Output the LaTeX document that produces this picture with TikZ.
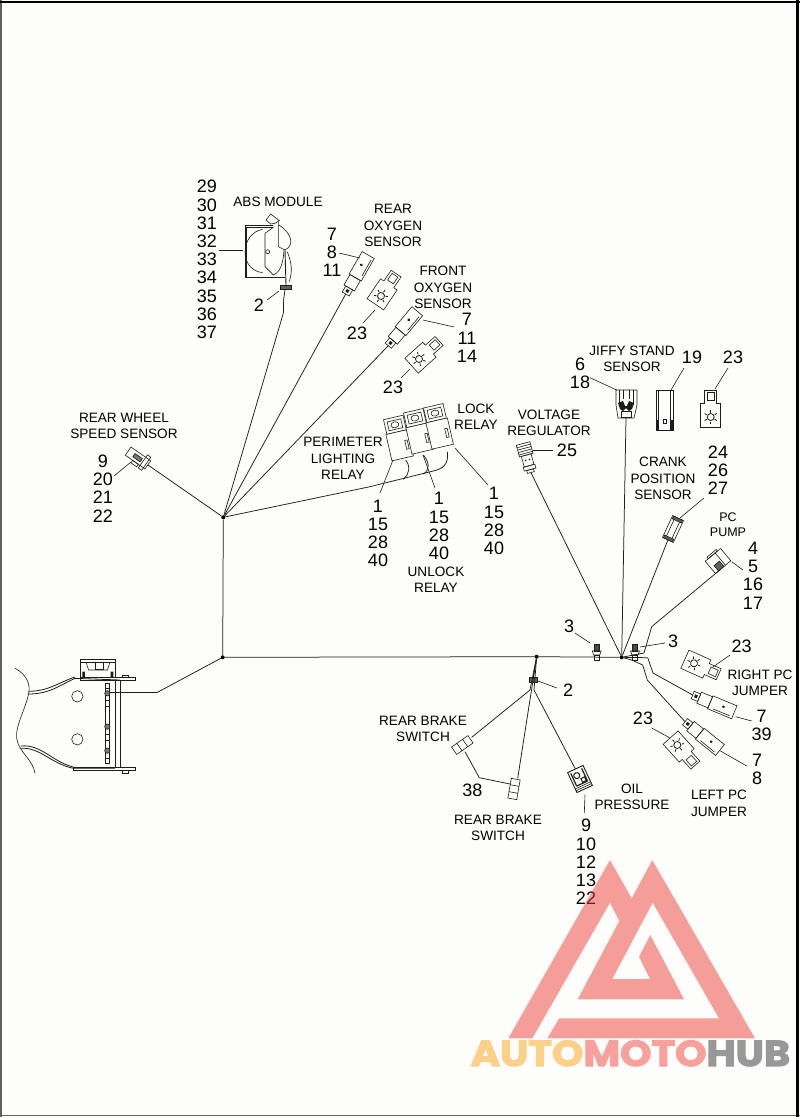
\documentclass[tikz,border=0pt]{standalone}
\usepackage{fontspec}
\setmainfont{Liberation Sans}
\newfontfamily\logofont[FakeBold=3]{Poppins}
\definecolor{paper}{HTML}{FDFEFB}
\definecolor{ink}{HTML}{1C1C1C}
\definecolor{logored}{HTML}{EE3F38}
\definecolor{logopink}{HTML}{F7A09C}
\definecolor{logoorange}{HTML}{FDD08A}
\definecolor{logogray}{HTML}{989898}

\tikzset{
  pics/plug/.style={code={
    \draw[partline] (0,-4) rectangle (7,4);
    \fill[ink] (2,-1.5) rectangle (5,1.5);
    \draw[partline] (7,-6) rectangle (19,6);
    \draw[partline] (19,-7) rectangle (45,7);
    \draw[partline] (24,5) -- (42,5);
    \fill[ink] (33,-1) circle (1.5);
    \coordinate (-tail) at (0,0);
  }},
  pics/tag/.style={code={
    \draw[partline] (-10,-10) -- (14,-10) -- (14,-6) -- (27,-6) -- (27,6) -- (14,6) -- (14,10) -- (-10,10) -- cycle;
    \draw[partline] (17,-3.5) rectangle (25,3.5);
    \draw[line width=.8pt,ink] (0,0) circle (3.5);
    \foreach \a in {0,60,...,300}
      \draw[line width=.8pt,ink] (\a:4.5) -- (\a:7);
  }},
  pics/relay/.style={code={
    \draw[partline,fill=paper] (-10,-30) rectangle (10,-15);
    \draw[partline] (0,-22.5) ellipse (4 and 3);
    \draw[partline] (-7,-18) rectangle (7,-27);
    \draw[partline,fill=paper] (-11,-15) rectangle (11,12);
    \draw[partline] (6,-5) rectangle (8.5,4);
  }},
  pics/pushpin/.style={code={
    \draw[partline,fill=ink!80] (-2.5,-9) rectangle (2.5,-2);
    \draw[partline] (-4.5,-2) -- (4.5,-2) -- (3,2) -- (-3,2) -- cycle;
    \draw[partline] (-2.5,2) rectangle (2.5,7);
  }},
  pics/brakeswitch/.style={code={
    \draw[partline] (-10,-4.5) rectangle (10,4.5);
    \draw[partline] (-3.5,-4.5) -- (-3.5,4.5) (3.5,-4.5) -- (3.5,4.5);
  }},
}

\begin{document}
\begin{tikzpicture}[x=1pt,y=-1pt]
  \tikzset{wire/.style = {draw=ink,line width=.75pt}}
  \tikzset{leader/.style = {draw=ink,line width=.6pt}}
  \tikzset{partline/.style = {draw=ink,line width=.6pt}}
  \tikzset{hub/.style = {shape=circle,fill=black,inner sep=0pt,minimum size=4pt}}
  \tikzset{caption/.style = {align=center,inner sep=0pt,font=\fontsize{13.6}{16.4}\selectfont,text=black}}
  \tikzset{itemno/.style = {align=center,inner sep=0pt,font=\fontsize{18}{18.2}\selectfont,text=black}}

  \useasboundingbox (0,0) rectangle (800,1117);
  \fill[paper] (0,0) rectangle (800,1117);
  \draw[line width=2pt,draw=ink!70] (1,0) -- (1,1117);
  \draw[line width=.9pt,draw=ink!70] (0,1115.5) -- (800,1115.5);
  \draw[line width=2pt,draw=black] (0,1.8) -- (800,1.8);
  \draw[line width=2.6pt,draw=black] (797.2,0) -- (797.2,1117);

  % frame section
  \begin{scope}[shift={(0,620)},scale=1/3]
    \draw[partline] (45,145) .. controls (75,160) and (95,190) .. (85,225) .. controls (75,270) and (45,320) .. (50,355) .. controls (55,395) and (100,420) .. (105,460);
    \draw[line width=.8pt,ink] (85,222) .. controls (150,222) and (180,195) .. (225,175) -- (360,180);
    \draw[line width=.8pt,ink] (85,214) .. controls (145,214) and (175,188) .. (225,171);
    \draw[line width=.8pt,ink] (60,385) .. controls (120,380) and (150,430) .. (220,445) -- (345,445);
    \draw[line width=.8pt,ink] (62,378) .. controls (125,372) and (155,425) .. (220,441);
    \draw[partline] (240,172) rectangle (405,180);
    \draw[partline] (366,165) rectangle (385,172);
    \draw[partline] (220,442) rectangle (405,452);
    \draw[partline] (366,452) rectangle (385,460);
    \draw[partline] (347,180) -- (347,442) (361,180) -- (361,442);
    \draw[partline] (232,229) circle (17) (232,358) circle (17);
    \draw[partline] (317,190) -- (317,430) (327,190) -- (327,430);
    \foreach \yb in {197,250,352,423}
      \draw[partline,fill=paper] (315,\yb-8) rectangle (329,\yb+8);
    \foreach \yb in {220,320,392}
      \draw[partline,fill=ink!60] (322,\yb) circle (8);
    \draw[partline] (242,172) -- (242,118) -- (346,118) -- (346,172);
    \draw[partline] (258,127) -- (330,127) -- (322,150) -- (266,150) -- cycle;
    \draw[partline] (287,127) rectangle (310,148);
    \draw[partline] (242,126) -- (346,126);
    \fill[ink] (247,155) rectangle (255,172) (332,155) rectangle (340,172);
  \end{scope}

  % ABS module
  \begin{scope}[shift={(180,170)},scale=1/3]
    \draw[partline] (280,165) -- (195,165) -- (195,322) -- (280,322);
    \draw[partline] (200,172) -- (280,172) (200,172) -- (200,322);
    \draw[partline] (248,178) .. controls (180,190) and (175,300) .. (248,308);
    \draw[partline] (258,150) -- (272,132) -- (298,152) -- (285,160) -- (272,162) -- cycle;
    \draw[partline] (255,190) -- (280,172) (255,190) -- (255,290) -- (280,315);
    \draw[partline] (263,245) circle (6);
    \draw[partline] (295,155) -- (295,230) -- (315,240) .. controls (345,225) and (335,190) .. (297,165);
    \draw[partline] (280,315) .. controls (305,305) and (310,270) .. (312,240);
    \draw[partline] (322,245) .. controls (335,280) and (338,300) .. (328,335);
    \draw[partline] (280,322) -- (315,322);
    \draw[line width=.9pt,ink] (315,240) -- (318,345);
    \node[draw=ink,fill=ink!70,inner sep=0pt,minimum width=11pt,minimum height=4pt] (absclip) at (316,352) {};
  \end{scope}

  % parts
  \pic[rotate=60] (rearplug) at (345.7,294) {plug};
  \pic[rotate=50] (frontplug) at (388.3,345.7) {plug};
  \pic[rotate=-22.6] (rightplug) at (692.7,695) {plug};
  \pic[rotate=-39] (leftplug) at (685,721.7) {plug};
  \pic[rotate=56] (tagrear) at (381,296) {tag};
  \pic[rotate=42] (tagfront) at (419,359) {tag};
  \pic[rotate=90] (tagjiffy) at (710.7,417) {tag};
  \pic[rotate=-24] (tagright) at (694,663.3) {tag};
  \pic[rotate=-48] (tagleft) at (677.3,745) {tag};
  \pic[rotate=13] at (400,446.7) {relay};
  \pic[rotate=13] at (420,440) {relay};
  \pic[rotate=13] at (440,435) {relay};
  \pic at (596.7,653) {pushpin};
  \pic at (635,653) {pushpin};
  \pic[rotate=35] at (462.3,745) {brakeswitch};
  \pic[rotate=80] at (514,789) {brakeswitch};

  % small connectors
  \begin{scope}[shift={(138,458)},rotate=-35]
    \draw[partline,fill=paper] (-12,-5) rectangle (12,5);
    \draw[partline,fill=ink!60] (-5,-2) rectangle (4,2);
    \draw[partline] (6,-8) rectangle (10,8);
    \draw[partline] (-3,5) rectangle (4,8);
    \coordinate (wheelconn) at (12,0);
  \end{scope}
  \begin{scope}[shift={(527,458)},rotate=15]
    \draw[partline] (-7,-15) rectangle (7,-3);
    \foreach \yb in {-12.5,-10,-7.5,-5}
      \draw[partline] (-7,\yb) -- (7,\yb);
    \draw[partline] (-5,-3) rectangle (5,8);
    \fill[ink] (-2,2) circle (.9) (2,2) circle (.9);
    \draw[partline] (-6,8) rectangle (6,12);
    \draw[partline] (-3.5,12) rectangle (3.5,15);
    \coordinate (regconn) at (0,15);
  \end{scope}
  \begin{scope}[shift={(626,405)}]
    \draw[partline] (-10,-15) -- (11,-15) -- (11,0) -- (8,13) -- (-8,13) -- (-10,0) -- cycle;
    \draw[partline] (-7,-15) -- (-7,0) (7,-15) -- (7,0) (-3,-15) -- (-3,-6) (3,-15) -- (3,-6);
    \fill[ink] (-8,-2) -- (-3,-4) -- (-1,1) -- (1,1) -- (3,-4) -- (8,-2) -- (6,4) -- (3,6) -- (0,3) -- (-3,6) -- (-6,4) -- cycle;
    \draw[partline] (-5,6) rectangle (5,12);
    \coordinate (jiffyconn) at (0,13);
  \end{scope}
  \begin{scope}[shift={(664.5,410)}]
    \draw[partline] (-8.5,-20) rectangle (8.5,20);
    \draw[partline] (-6,-20) -- (-6,20) (6,-20) -- (6,20);
    \fill[ink] (-8.5,10) rectangle (-6.5,20) (6.5,10) rectangle (8.5,20);
    \draw[partline] (-1.5,9) rectangle (1.5,13);
    \coordinate (sidejiffy) at (6,-20);
  \end{scope}
  \begin{scope}[shift={(673,529)},rotate=-25]
    \draw[partline] (-6,-12) rectangle (6,12);
    \draw[partline] (-3,-12) -- (-3,12) (3,-12) -- (3,12);
    \draw[partline,fill=ink!70] (-5,-12) rectangle (5,-9);
    \draw[partline,fill=ink!70] (-5,9) rectangle (5,12);
    \coordinate (crankconn) at (0,12);
  \end{scope}
  \begin{scope}[shift={(718,561)},rotate=40]
    \draw[partline] (-10,-8) rectangle (10,8);
    \draw[partline] (-6,-10) rectangle (6,-8);
    \draw[partline,fill=ink!70] (-6,1) rectangle (1,8);
    \draw[partline] (3,-8) -- (3,8);
    \coordinate (pumpconn) at (-4,8);
  \end{scope}
  \begin{scope}[shift={(580,779)},rotate=25]
    \draw[line width=.9pt,ink] (-8.5,-11) rectangle (8.5,11);
    \draw[partline] (-8.5,7) -- (8.5,7) (-8.5,9) -- (8.5,9);
    \draw[line width=1.2pt,ink] (-6,-9) -- (-6,5) (6,-9) -- (6,5) (-6,5) -- (6,5);
    \draw[line width=1pt,ink] (-1.5,-4.5) circle (3);
    \draw[line width=1pt,ink] (1,0) rectangle (5,4);
    \coordinate (oilconn) at (0,-11);
    \coordinate (oilout) at (2,11);
  \end{scope}
  \node[draw=ink,fill=ink!70,inner sep=0pt,minimum width=8pt,minimum height=5pt] (brakeclip) at (532.7,679.3) {};

  % harness
  \node[hub] (hubtop) at (223.3,517.3) {};
  \node[hub] (hubframe) at (222.7,657.3) {};
  \node[hub] (hubright) at (621.7,657.3) {};
  \node[hub] (hubbrake) at (536.7,656.7) {};
  \foreach \name/\x/\y in {framea/110/692.7, frameb/156.7/692.7, absb/283.3/313.3, absc/283.3/301.7,
    rearswa/471.7/737.3, rearswb/517.7/778.3, rearswc/465/751.7, rearswd/479.3/777.7, rearswe/510/784,
    brakea/530/690, brakeb/534/690, oila/575/768.3, pumpa/651.7/626.7, pumpb/644/653,
    jumpa/647.7/657.7, jumpb/653/673, jumpc/631.7/660, jumpd/642.7/665, jumpe/647.3/680,
    reltrunka/370/486.7, reltrunkb/433.3/471, relaya/403.3/479.3, relayb/405.7/460,
    relayc/423.3/474, relayd/423.3/455, relaye/447.3/451.7}
    \coordinate (\name) at (\x,\y);

  \foreach \from/\to in {hubtop/hubframe, hubframe/hubbrake, hubbrake/hubright, framea/frameb, frameb/hubframe,
    hubtop/wheelconn, hubtop/absb, absb/absc, absc/absclip, hubtop/rearplug-tail, hubtop/frontplug-tail,
    hubtop/reltrunka, reltrunka/reltrunkb, hubright/regconn, hubright/jiffyconn, hubright/crankconn,
    hubright/pumpb, pumpb/pumpa, pumpa/pumpconn, hubright/jumpa, jumpa/jumpb, jumpb/rightplug-tail,
    hubright/jumpc, jumpc/jumpd, jumpd/jumpe, jumpe/leftplug-tail, hubbrake/brakeclip,
    hubbrake/brakea, brakea/rearswa, hubbrake/rearswb, hubbrake/brakeb, brakeb/oila, oila/oilconn,
    rearswc/rearswd, rearswd/rearswe}
    \path[wire] (\from) edge (\to);

  \draw[wire] (relaya) .. controls +(6,-4) and +(5,6) .. (relayb);
  \draw[wire] (relayc) .. controls +(7,-4) and +(6,7) .. (relayd);
  \draw[wire] (reltrunkb) .. controls +(14,-3) and +(1,8) .. (relaye);

  % leaders
  \foreach \i/\xa/\ya/\xb/\yb in {1/219/250.7/243/250.7, 2/267/300/279/291, 3/339/253/360/258, 4/363/323/375/310,
    5/454/327/423/320, 6/401/378/410/369, 7/114/476/131/462, 8/380/493/393/460, 9/435/488/423/455, 10/488/485/455/448,
    11/553/450.7/533/450.7, 12/590/377.7/616.7/390, 13/684/368/671/390, 14/728/368/715/389, 15/704/498/680/518,
    16/743/570/731.7/561.7, 17/575/633/590/643, 18/665/643/640/647, 19/730/655/713/667, 20/751.7/721/735.7/716.7,
    21/651.7/728/670/738, 22/746.7/766/720/750.7, 23/557/688/538/681, 24/585/795/584.3/813} {
    \coordinate (lead\i a) at (\xa,\ya);
    \coordinate (lead\i b) at (\xb,\yb);
    \path[leader] (lead\i a) edge (lead\i b);
  }

  % captions
  \node[caption] (absname) at (278,202) {ABS MODULE};
  \node[caption] (rearoxy) at (393,225.5) {REAR\\OXYGEN\\SENSOR};
  \node[caption] (frontoxy) at (443,287.5) {FRONT\\OXYGEN\\SENSOR};
  \node[caption] (wheelname) at (124,426) {REAR WHEEL\\SPEED SENSOR};
  \node[caption] (perimeter) at (343,458.5) {PERIMETER\\LIGHTING\\RELAY};
  \node[caption] (lockname) at (476,416.5) {LOCK\\RELAY};
  \node[caption] (unlockname) at (436,580) {UNLOCK\\RELAY};
  \node[caption] (regname) at (549,423) {VOLTAGE\\REGULATOR};
  \node[caption] (jiffyname) at (632,359) {JIFFY STAND\\SENSOR};
  \node[caption] (crankname) at (663,478.5) {CRANK\\POSITION\\SENSOR};
  \node[caption,font=\fontsize{12.5}{15}\selectfont] (pumpname) at (728,524.5) {PC\\PUMP};
  \node[caption] (rightname) at (760,683) {RIGHT PC\\JUMPER};
  \node[caption] (leftname) at (719,803.5) {LEFT PC\\JUMPER};
  \node[caption] (oilname) at (632,797) {OIL\\PRESSURE};
  \node[caption] (brakeaname) at (423,729) {REAR BRAKE\\SWITCH};
  \node[caption] (brakebname) at (498,828) {REAR BRAKE\\SWITCH};

  % item numbers
  \node[itemno] (absnums) at (207,259.5) {29\\30\\31\\32\\33\\34\\35\\36\\37};
  \node[itemno] (absclipno) at (259,305) {2};
  \node[itemno] (rearnums) at (332,252.5) {7\\8\\11};
  \node[itemno] (tagrearno) at (357,333) {23};
  \node[itemno] (frontnums) at (467,338) {7\\11\\14};
  \node[itemno] (tagfrontno) at (393,387) {23};
  \node[itemno] (wheelnums) at (103,488.5) {9\\20\\21\\22};
  \node[itemno] (relaynumsa) at (378,533.5) {1\\15\\28\\40};
  \node[itemno] (relaynumsb) at (439,526) {1\\15\\28\\40};
  \node[itemno] (relaynumsc) at (494,521) {1\\15\\28\\40};
  \node[itemno] (regno) at (567,450) {25};
  \node[itemno] (jiffynums) at (580,373.5) {6\\18};
  \node[itemno] (sideno) at (692,357) {19};
  \node[itemno] (tagjiffyno) at (733,357) {23};
  \node[itemno] (cranknums) at (718,470) {24\\26\\27};
  \node[itemno] (pumpnums) at (753,575.5) {4\\5\\16\\17};
  \node[itemno] (pinano) at (569,626) {3};
  \node[itemno] (pinbno) at (673,641) {3};
  \node[itemno] (tagrightno) at (741.7,646) {23};
  \node[itemno] (rightnums) at (761.7,725) {7\\39};
  \node[itemno] (tagleftno) at (643,718) {23};
  \node[itemno] (leftnums) at (757,769) {7\\8};
  \node[itemno] (brakeclipno) at (568,690.7) {2};
  \node[itemno] (switchno) at (472.3,790.7) {38};
  \node[itemno] (oilnums) at (586,862) {9\\10\\12\\13\\22};

  % logo
  \fill[logored,opacity=.5] (508.3,1038.3) -- (610,860) -- (631.7,898.3) -- (652.3,860) -- (755,1038.3)
    -- (547.3,1038.3) -- (559.3,1018.3) -- (719,1018.3) -- (652.7,902.7) -- (612.3,979) -- (650,979)
    -- (639,956.7) -- (650.3,935) -- (684,999.3) -- (577.7,999.3) -- (619.3,921) -- (610,902.7) -- (532.3,1038.3) -- cycle;
  \node[inner sep=0pt] (logoname) at (630.5,1053.3) {\scalebox{1.11}[1]{\logofont\bfseries\fontsize{36}{36}\selectfont\textcolor{logoorange}{AUTO}\textcolor{logopink}{MOTO}\textcolor{logogray}{HUB}}};
\end{tikzpicture}
\end{document}
